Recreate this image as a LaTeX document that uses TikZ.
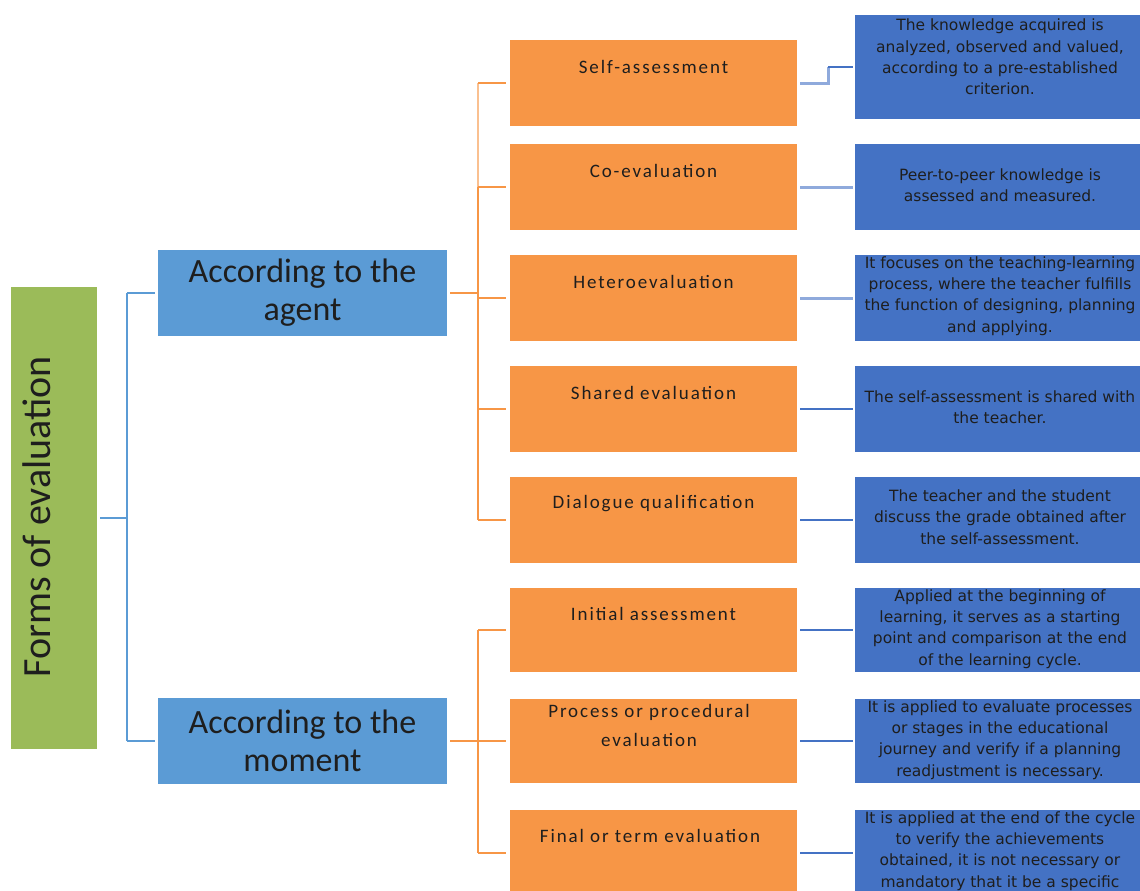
\documentclass[tikz,border=0pt]{standalone}
\usepackage{fontspec}
\setmainfont{Carlito}
\newfontfamily\descfont{DejaVu Sans}
\newfontfamily\ofont[LetterSpace=10]{Carlito}
\definecolor{cgreen}{HTML}{9BBB59}
\definecolor{cmid}{HTML}{5B9BD5}
\definecolor{corange}{HTML}{F79646}
\definecolor{clightor}{HTML}{FAC090}
\definecolor{cright}{HTML}{4472C4}
\definecolor{clightbl}{HTML}{8FAADC}
\definecolor{ctext}{HTML}{1E1E1E}
\tikzset{
  rootbox/.style={fill=cgreen, draw=none, minimum width=86pt, minimum height=462pt, inner sep=0pt},
  midbox/.style={fill=cmid, draw=none, minimum width=289pt, minimum height=86pt, inner sep=0pt,
    align=center, text=ctext, font=\fontsize{34}{38}\selectfont},
  obox/.style={fill=corange, draw=none, minimum width=287pt, minimum height=86pt, inner sep=0pt},
  otext/.style={align=center, text=ctext, inner sep=0pt, font=\ofont\fontsize{19}{29}\selectfont},
  dbox/.style={fill=cright, draw=none, minimum width=290pt, minimum height=86pt, inner sep=0pt},
  dtext/.style={align=center, text=ctext, inner sep=0pt, font=\descfont\fontsize{15.5}{21.3}\selectfont},
  bline/.style={draw=cmid, line width=2pt},
  oline/.style={draw=corange, line width=2pt},
  olight/.style={draw=clightor, line width=2pt},
  rlight/.style={draw=clightbl, line width=3pt},
  rdark/.style={draw=cright, line width=1.6pt},
}
\begin{document}
\begin{tikzpicture}[x=1pt,y=-1pt]
\useasboundingbox (0,0) rectangle (1140,891);
\clip (0,0) rectangle (1140,891);
\fill[white] (0,0) rectangle (1140,891);

% root
\node[rootbox] (root) at (54,518) {};
\node[rotate=90, text=ctext, inner sep=0pt, font=\fontsize{40}{44}\selectfont] (roottext) at (37,517) {Forms of evaluation};

% middle
\node[midbox] (agent) at (302.5,293) {According to the\\agent};
\node[midbox] (moment) at (302.5,741) {According to the\\moment};

% orange boxes
\node[obox] (o1) at (653.5,83) {};
\node[obox] (o2) at (653.5,187) {};
\node[obox] (o3) at (653.5,298) {};
\node[obox] (o4) at (653.5,409) {};
\node[obox] (o5) at (653.5,520) {};
\node[obox, minimum height=84pt] (o6) at (653.5,630) {};
\node[obox, minimum height=84pt] (o7) at (653.5,741) {};
\node[obox] (o8) at (653.5,853) {};

\node[otext] (t1) at (653.5,67) {Self-assessment};
\node[otext] (t2) at (653.5,171) {Co-evaluation};
\node[otext] (t3) at (653.5,282) {Heteroevaluation};
\node[otext] (t4) at (653.5,393) {Shared evaluation};
\node[otext] (t5) at (653.5,504) {Dialogue qualification};
\node[otext] (t6) at (653.5,614) {Initial assessment};
\node[otext] (t7) at (649,725.5) {Process or procedural\\evaluation};
\node[otext] (t8) at (650,836) {Final or term evaluation};

% right boxes
\node[dbox, minimum height=104pt] (d1) at (1000,67) {};
\node[dbox] (d2) at (1000,187) {};
\node[dbox] (d3) at (1000,298) {};
\node[dbox] (d4) at (1000,409) {};
\node[dbox] (d5) at (1000,520) {};
\node[dbox, minimum height=84pt] (d6) at (1000,630) {};
\node[dbox, minimum height=84pt] (d7) at (1000,741) {};
\node[dbox] (d8) at (1000,853) {};

\node[dtext] (e1) at (1000,57) {The knowledge acquired is\\analyzed, observed and valued,\\according to a pre-established\\criterion.};
\node[dtext] (e2) at (1000,185) {Peer-to-peer knowledge is\\assessed and measured.};
\node[dtext] (e3) at (1000,296) {It focuses on the teaching-learning\\process, where the teacher fulfills\\the function of designing, planning\\and applying.};
\node[dtext] (e4) at (1000,407) {The self-assessment is shared with\\the teacher.};
\node[dtext] (e5) at (1000,517) {The teacher and the student\\discuss the grade obtained after\\the self-assessment.};
\node[dtext] (e6) at (1000,629) {Applied at the beginning of\\learning, it serves as a starting\\point and comparison at the end\\of the learning cycle.};
\node[dtext] (e7) at (1000,740) {It is applied to evaluate processes\\or stages in the educational\\journey and verify if a planning\\readjustment is necessary.};
\node[dtext] (e8) at (1000,851) {It is applied at the end of the cycle\\to verify the achievements\\obtained, it is not necessary or\\mandatory that it be a specific};

% root connectors
\draw[bline, shorten <=3pt] (root.east) -- ++(30,0) coordinate (rj);
\draw[bline] (rj |- agent.west) -- (rj |- moment.west);
\draw[bline, shorten >=3pt] (rj |- agent.west) -- (agent.west);
\draw[bline, shorten >=3pt] (rj |- moment.west) -- (moment.west);

% agent connectors
\draw[oline, shorten <=3pt] (agent.east) -- ++(31,0) coordinate (aj);
\draw[olight] (aj |- o1.west) -- (aj |- o2.west);
\draw[oline] (aj |- o2.west) -- (aj |- o5.west);
\foreach \o in {o1,o2,o3,o4,o5}{
  \draw[oline, shorten >=4pt] (aj |- \o.west) -- (\o.west);
}
% moment connectors
\draw[oline, shorten <=3pt] (moment.east) -- ++(31,0) coordinate (mj);
\draw[oline] (mj |- o6.west) -- (mj |- o8.west);
\foreach \o in {o6,o7,o8}{
  \draw[oline, shorten >=4pt] (mj |- \o.west) -- (\o.west);
}

% right connectors
\draw[rlight, shorten <=3pt] (o1.east) -- ++(31,0) coordinate (sj) -- (sj |- d1.west);
\draw[rdark, shorten >=2pt] (sj |- d1.west) -- (d1.west);
\draw[rlight, shorten <=3pt, shorten >=2pt] (o2.east) -- (d2.west);
\draw[rlight, shorten <=3pt, shorten >=2pt] (o3.east) -- (d3.west);
\foreach \i in {4,5,6,7,8}{
  \draw[rdark, shorten <=3pt, shorten >=2pt] (o\i.east) -- (d\i.west);
}
\end{tikzpicture}
\end{document}
